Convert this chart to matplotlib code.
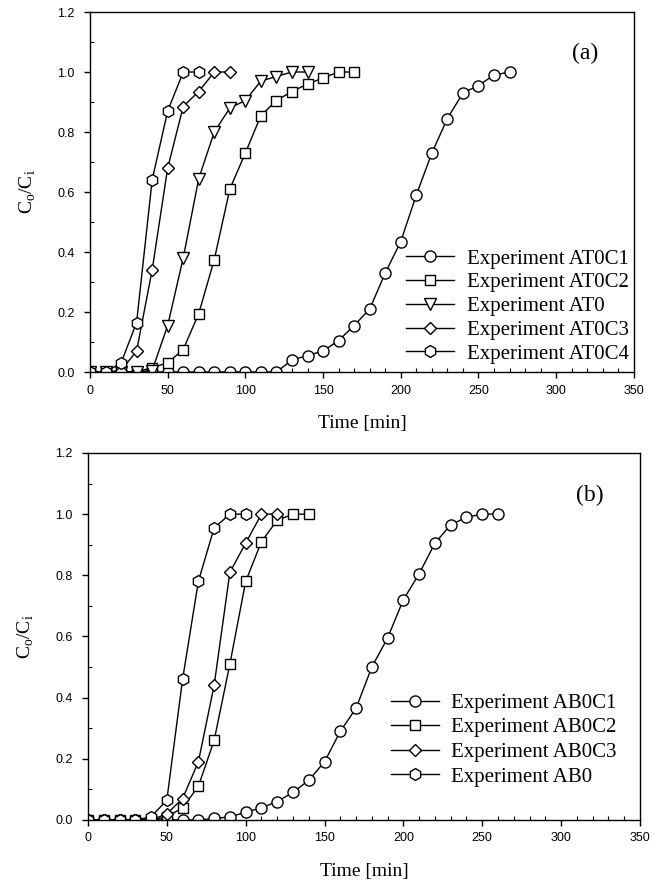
import matplotlib
matplotlib.use("Agg")
import matplotlib.pyplot as plt
from matplotlib.ticker import MultipleLocator

# breakthrough curves, panel (a)
t_at0c1 = [0, 10, 20, 30, 40, 50, 60, 70, 80, 90, 100, 110, 120, 130, 140,
           150, 160, 170, 180, 190, 200, 210, 220, 230, 240, 250, 260, 270]
c_at0c1 = [0, 0, 0, 0, 0, 0, 0, 0, 0, 0, 0, 0, 0, 0.04, 0.055,
           0.07, 0.105, 0.155, 0.21, 0.33, 0.435, 0.59, 0.73, 0.845, 0.93, 0.955, 0.99, 1.0]
t_at0c2 = [0, 10, 20, 30, 40, 50, 60, 70, 80, 90, 100, 110, 120, 130, 140, 150, 160, 170]
c_at0c2 = [0, 0, 0, 0, 0.015, 0.03, 0.075, 0.195, 0.375, 0.61, 0.73, 0.855, 0.905,
           0.935, 0.96, 0.98, 1.0, 1.0]
t_at0 = [0, 10, 20, 30, 40, 50, 60, 70, 80, 90, 100, 110, 120, 130, 140]
c_at0 = [0, 0, 0, 0, 0.005, 0.155, 0.38, 0.645, 0.80, 0.88, 0.905, 0.97, 0.985, 1.0, 1.0]
t_at0c3 = [0, 10, 20, 30, 40, 50, 60, 70, 80, 90]
c_at0c3 = [0, 0, 0.005, 0.07, 0.34, 0.68, 0.885, 0.935, 1.0, 1.0]
t_at0c4 = [0, 10, 20, 30, 40, 50, 60, 70]
c_at0c4 = [0, 0, 0.03, 0.165, 0.64, 0.87, 1.0, 1.0]

# breakthrough curves, panel (b)
t_ab0c1 = [0, 10, 20, 30, 40, 50, 60, 70, 80, 90, 100, 110, 120, 130, 140,
           150, 160, 170, 180, 190, 200, 210, 220, 230, 240, 250, 260]
c_ab0c1 = [0, 0, 0, 0, 0, 0, 0, 0, 0.005, 0.01, 0.025, 0.04, 0.06, 0.09, 0.13,
           0.19, 0.29, 0.365, 0.5, 0.595, 0.72, 0.805, 0.905, 0.965, 0.99, 1.0, 1.0]
t_ab0c2 = [0, 10, 20, 30, 40, 50, 60, 70, 80, 90, 100, 110, 120, 130, 140]
c_ab0c2 = [0, 0, 0, 0, 0, 0.01, 0.04, 0.11, 0.26, 0.51, 0.78, 0.91, 0.98, 1.0, 1.0]
t_ab0c3 = [0, 10, 20, 30, 40, 50, 60, 70, 80, 90, 100, 110, 120]
c_ab0c3 = [0, 0, 0, 0, 0, 0.02, 0.07, 0.19, 0.44, 0.81, 0.905, 1.0, 1.0]
t_ab0 = [0, 10, 20, 30, 40, 50, 60, 70, 80, 90, 100]
c_ab0 = [0, 0, 0, 0, 0.01, 0.065, 0.46, 0.78, 0.955, 1.0, 1.0]

series_a = [
    ("Experiment AT0C1", t_at0c1, c_at0c1, "o", 8),
    ("Experiment AT0C2", t_at0c2, c_at0c2, "s", 7),
    ("Experiment AT0", t_at0, c_at0, "v", 8),
    ("Experiment AT0C3", t_at0c3, c_at0c3, "D", 6.5),
    ("Experiment AT0C4", t_at0c4, c_at0c4, "h", 8.5),
]
series_b = [
    ("Experiment AB0C1", t_ab0c1, c_ab0c1, "o", 8),
    ("Experiment AB0C2", t_ab0c2, c_ab0c2, "s", 7),
    ("Experiment AB0C3", t_ab0c3, c_ab0c3, "D", 6.5),
    ("Experiment AB0", t_ab0, c_ab0, "h", 8.5),
]

SERIF = ["Liberation Serif", "DejaVu Serif"]
SANS = ["Liberation Sans", "DejaVu Sans"]
plt.rcParams["mathtext.fontset"] = "custom"
plt.rcParams["mathtext.rm"] = "Liberation Serif"

fig = plt.figure(figsize=(6.69, 8.83), dpi=100)
ax_a = fig.add_axes([0.1345, 0.5787, 0.813, 0.4077])
ax_b = fig.add_axes([0.1315, 0.0714, 0.825, 0.4156])


def draw_panel(ax, series, tag, leg_anchor, spacing):
    for label, t, c, mk, ms in series:
        ax.plot(t, c, color="black", lw=1.0, marker=mk, ms=ms,
                mfc="white", mec="black", mew=1.0, label=label)
    ax.set_xlim(0, 350)
    ax.set_ylim(0, 1.2)
    ax.xaxis.set_major_locator(MultipleLocator(50))
    ax.xaxis.set_minor_locator(MultipleLocator(10))
    ax.yaxis.set_major_locator(MultipleLocator(0.2))
    ax.yaxis.set_minor_locator(MultipleLocator(0.1))
    ax.yaxis.set_major_formatter(plt.FormatStrFormatter("%.1f"))
    ax.tick_params(which="major", direction="out", length=4, width=1,
                   labelsize=9, pad=5)
    ax.tick_params(axis="y", which="major", pad=7)
    ax.tick_params(which="minor", direction="in", length=3, width=0.8)
    for lab in ax.get_xticklabels() + ax.get_yticklabels():
        lab.set_family(SANS)
    for sp in ax.spines.values():
        sp.set_linewidth(1.0)
    ax.set_xlabel("Time [min]", family=SERIF, fontsize=14, labelpad=13)
    ax.set_ylabel(r"C$_\mathregular{o}$/C$_\mathregular{i}$",
                  family=SERIF, fontsize=14, labelpad=14)
    ax.text(0.91, 0.885, tag, transform=ax.transAxes, family=SERIF,
            fontsize=17, ha="center", va="center")
    ax.legend(loc="lower right", bbox_to_anchor=leg_anchor, frameon=False,
              prop={"family": SERIF, "size": 15}, handlelength=2.3,
              handletextpad=0.6, labelspacing=spacing, borderaxespad=0.0)


draw_panel(ax_a, series_a, "(a)", (1.006, 0.0), 0.2)
draw_panel(ax_b, series_b, "(b)", (0.973, 0.068), 0.24)

fig.savefig("out.png", dpi=100)
